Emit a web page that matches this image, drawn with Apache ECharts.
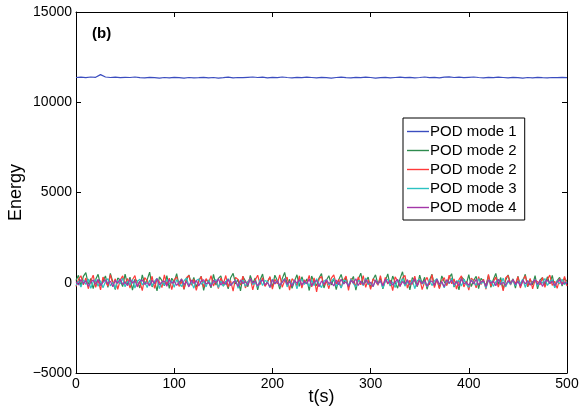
<!DOCTYPE html>
<html>
<head>
<meta charset="utf-8">
<script src="https://cdn.jsdelivr.net/npm/echarts@6/dist/echarts.min.js"></script>
<style>
  html, body { margin: 0; padding: 0; background: #fff; }
  #chart { width: 579px; height: 414px; }
</style>
</head>
<body>
<div id="chart"></div>
<script>
// legend labels (mode 2 shows up twice in the original figure)
const modeNames = ['POD mode 1', 'POD mode 2', 'POD mode 2', 'POD mode 3', 'POD mode 4'];
const modeColors = ['#3b4dbf', '#2e8b4e', '#ff3a3a', '#2cc2c2', '#a336a8'];
const xTicks = [0, 100, 200, 300, 400, 500];
const yTicks = [-5000, 0, 5000, 10000, 15000];

// mode 1 energy, sampled every 5 s
const mode1 = [
  11370, 11390, 11360, 11400, 11380, 11530, 11400, 11370, 11390, 11360, 11380, 11370, 11400, 11360, 11350, 11380, 11360, 11340, 11370, 11350,
  11380, 11360, 11340, 11370, 11350, 11360, 11380, 11350, 11370, 11340, 11360, 11390, 11350, 11370, 11360, 11380, 11400, 11370, 11390, 11350,
  11380, 11360, 11400, 11370, 11350, 11380, 11360, 11390, 11370, 11350, 11380, 11360, 11340, 11370, 11390, 11360, 11350, 11380, 11360, 11390,
  11370, 11340, 11360, 11380, 11350, 11370, 11390, 11360, 11380, 11350, 11370, 11400, 11360, 11380, 11350, 11390, 11410, 11370, 11390, 11360,
  11380, 11400, 11370, 11350, 11380, 11360, 11390, 11370, 11350, 11380, 11360, 11340, 11370, 11350, 11380, 11360, 11350, 11370, 11360, 11380, 11360
];

// fluctuating modes, sampled every 2.5 s
const mode2a = [
  120, 410, -180, 350, 560, -90, 230, -320, 180, 470, -150, 90, 380, -260, 520, 40, -380, 260, 150, -210,
  480, -120, 310, -410, 200, 90, -290, 440, -60, 170, 590, -230, 80, -450, 330, 120, -170, 400, -310, 250,
  30, 510, -140, 220, -370, 160, 430, -80, 290, -240, 110, 360, -420, 190, 50, -280, 470, -130, 240, 380,
  -190, 80, -340, 280, 520, -60, 180, -450, 350, 100, -220, 410, -30, 260, -390, 150, 480, -170, 60, 300,
  -260, 420, 130, -350, 230, 570, -100, 190, -310, 90, 440, -200, 330, -70, 210, -430, 370, 20, -160, 260,
  510, -290, 140, 390, -120, 240, -380, 170, 460, -50, 290, -230, 80, 350, -410, 200, 530, -140, 60, 310,
  -270, 180, 440, -90, 250, -340, 120, 490, -190, 370, 20, -300, 230, 610, -110, 160, -400, 280, 90, -220,
  420, -60, 300, -360, 140, 470, -170, 210, -280, 380, 50, -130, 260, 500, -240, 110, -390, 320, 190, -80,
  450, -210, 130, 360, -330, 240, 70, -150, 410, -260, 180, 520, -100, 290, -370, 140, 430, -50, 220, -300,
  360, -180, 90, 470, -230, 200, -120, 390, -340, 160, 280, -150, 330, -60, 410, -250, 120, 300, -190, 240, 80
];
const mode2b = [
  -210, 180, 390, -120, 260, -330, 90, 420, -250, 150, -400, 310, 60, -180, 450, -90, 220, -360, 130, 380,
  -60, 240, -290, 170, 400, -230, 80, -440, 290, 120, -150, 360, -310, 200, 40, -270, 430, -110, 250, -380,
  160, 330, -200, 70, -350, 280, 410, -140, 190, -420, 90, 350, -260, 230, -30, 390, -180, 140, -320, 270,
  -80, 400, -240, 110, -460, 300, 180, -130, 370, -290, 60, 240, -390, 150, 420, -100, 280, -200, 30, 340,
  -350, 190, -60, 440, -250, 120, 310, -410, 220, 80, -170, 380, -300, 160, -40, 410, -230, 270, -500, 200,
  350, -150, 90, -330, 260, 430, -80, 180, -280, 130, 370, -420, 240, 50, -190, 320, -110, 400, -260, 170,
  -360, 220, 70, -140, 390, -240, 290, -70, 150, -440, 330, 100, -210, 260, 410, -300, 140, -90, 360, -180,
  230, -380, 40, 300, -120, 450, -270, 190, -330, 110, 280, -160, 420, -60, 210, -350, 170, 380, -230, 90,
  -410, 250, 130, -280, 340, -100, 200, -360, 460, -190, 60, 310, -240, 150, -450, 270, 400, -130, 180, -70,
  330, -290, 120, 390, -200, 240, -340, 160, 60, -120, 300, -260, 190, 420, -150, 80, -310, 230, -90, 350, -180
];
const mode3 = [
  -150, 80, -240, 160, -90, 210, -310, 40, 190, -200, 120, -280, 60, 230, -170, 20, -330, 140, -60, 250,
  -220, 100, -130, 180, -290, 70, 200, -110, 30, -260, 150, -180, 90, 240, -320, 50, -140, 200, -70, 120,
  -250, 170, -30, -210, 110, 260, -160, 40, -300, 130, 210, -90, 80, -230, 160, -120, 20, 190, -270, 100,
  -180, 60, 230, -140, -20, 170, -310, 90, 140, -200, 50, 220, -100, 10, -250, 180, -150, 120, 70, -280,
  200, -60, 130, -190, 30, 250, -230, 80, -120, 160, -340, 110, 190, -80, 40, -210, 150, -160, 220, -40,
  -270, 90, 180, -130, 60, 240, -200, 20, -290, 140, 100, -170, 210, -50, -240, 130, 70, -150, 260, -110,
  10, -220, 170, -80, 120, -300, 90, 200, -140, 50, -260, 160, -20, 230, -190, 80, -120, 150, -330, 110,
  190, -70, 40, -240, 180, -160, 100, 220, -100, 30, -280, 140, -50, 250, -210, 60, 120, -180, 200, -90,
  -250, 170, 20, -140, 230, -60, 90, -310, 150, 110, -200, 40, 190, -120, 260, -230, 70, -90, 160, -170,
  100, -40, 210, -260, 130, -110, 60, 180, -200, 90, -30, 240, -150, 50, 170, -280, 120, -60, 200, -100, 40
];
const mode4 = [
  60, -120, 180, -40, 110, -190, 30, 150, -80, 200, -140, 20, 170, -60, 90, -220, 130, -30, 210, -100,
  40, -160, 190, -20, 120, -210, 70, 160, -90, 10, -170, 140, -50, 230, -120, 50, 100, -190, 180, -30,
  80, -150, 20, 200, -110, 60, -230, 150, -40, 120, -180, 90, 170, -70, 30, -200, 140, -10, 220, -130,
  60, -90, 190, -160, 40, 110, -210, 160, -50, 80, -140, 230, -20, 100, -180, 50, 150, -120, 10, -240,
  170, -60, 120, -150, 30, 200, -100, 70, -190, 140, -30, 180, -130, 90, -60, 210, -170, 40, 130, -220,
  100, -80, 160, -40, 20, -180, 150, -110, 190, -70, 60, -200, 130, -20, 220, -150, 80, -100, 170, -40,
  30, -210, 140, -60, 110, -170, 200, -30, 90, -130, 50, 180, -190, 70, -80, 160, -120, 20, 210, -160,
  120, -50, 150, -200, 40, 100, -140, 190, -90, 60, -230, 170, -20, 130, -110, 80, -180, 220, -60, 30,
  -150, 140, -70, 190, -120, 50, 110, -210, 160, -30, 90, -170, 200, -80, 20, -140, 130, -40, 180, -100,
  70, -190, 150, -60, 100, -130, 40, 170, -90, 120, -200, 60, 150, -40, 90, -160, 30, 180, -110, 50, -70
];

// pair each value with its time (samples spread evenly over 0..500 s)
function withTime(values) {
  const step = 500 / (values.length - 1);
  return values.map((v, i) => [i * step, v]);
}

const seriesValues = [mode1, mode2a, mode2b, mode3, mode4];
// unique ids for the legend, shown with the original names
const seriesIds = ['m1', 'm2a', 'm2b', 'm3', 'm4'];

const font = '"Liberation Sans", Arial, sans-serif';
const chart = echarts.init(document.getElementById('chart'), null, { renderer: 'canvas' });

const series = seriesValues.map((vals, k) => ({
  id: seriesIds[k],
  name: seriesIds[k],
  type: 'line',
  xAxisIndex: 0,
  yAxisIndex: 0,
  data: withTime(vals),
  symbol: 'none',
  lineStyle: { color: modeColors[k], width: 1.2 },
  itemStyle: { color: modeColors[k] },
  animation: false
}));

// plain numbers, matlab style minus
const plainLabel = v => String(v).replace('-', '\u2212');

const boxAxis = {
  axisLine: { show: true, onZero: false, lineStyle: { color: '#000', width: 1 } },
  axisTick: { show: true, inside: true, length: 5, lineStyle: { color: '#000' } },
  axisLabel: { show: false },
  splitLine: { show: false }
};

const option = {
  backgroundColor: '#fff',
  animation: false,
  grid: { left: 76, right: 12, top: 12, bottom: 41, containLabel: false, outerBoundsMode: 'none' },
  legend: {
    data: seriesIds.map(id => ({ name: id, icon: 'rect' })),
    formatter: id => modeNames[seriesIds.indexOf(id)],
    orient: 'vertical',
    left: 403,
    top: 118,
    width: 123,
    padding: [6, 8, 5, 4],
    itemWidth: 22,
    itemHeight: 1.4,
    itemGap: 4,
    backgroundColor: '#fff',
    borderColor: '#000',
    borderWidth: 1,
    selectedMode: false,
    textStyle: { fontFamily: font, fontSize: 15, color: '#000', padding: [0, 0, 0, -4], lineHeight: 15 }
  },
  graphic: [{
    type: 'text',
    left: 92,
    top: 26,
    style: { text: '(b)', font: 'bold 15px ' + font, fill: '#000' }
  }],
  xAxis: [{
    type: 'value',
    min: xTicks[0],
    max: xTicks[xTicks.length - 1],
    interval: 100,
    name: 't(s)',
    nameLocation: 'middle',
    nameGap: 15,
    nameMoveOverlap: false,
    nameTextStyle: { fontFamily: font, fontSize: 18, color: '#000', verticalAlign: 'top' },
    axisLine: { show: true, onZero: false, lineStyle: { color: '#000', width: 1 } },
    axisTick: { show: true, inside: true, length: 5, lineStyle: { color: '#000' } },
    axisLabel: { fontFamily: font, fontSize: 14, color: '#000', margin: 4, formatter: plainLabel },
    splitLine: { show: false }
  }, Object.assign({
    type: 'value', position: 'top',
    min: xTicks[0], max: xTicks[xTicks.length - 1], interval: 100
  }, boxAxis)],
  yAxis: [{
    type: 'value',
    min: yTicks[0],
    max: yTicks[yTicks.length - 1],
    interval: 5000,
    name: 'Energy',
    nameLocation: 'middle',
    nameGap: 51,
    nameMoveOverlap: false,
    nameTextStyle: { fontFamily: font, fontSize: 18, color: '#000' },
    axisLine: { show: true, onZero: false, lineStyle: { color: '#000', width: 1 } },
    axisTick: { show: true, inside: true, length: 5, lineStyle: { color: '#000' } },
    axisLabel: { fontFamily: font, fontSize: 14, color: '#000', margin: 4, formatter: plainLabel },
    splitLine: { show: false }
  }, Object.assign({
    type: 'value', position: 'right',
    min: yTicks[0], max: yTicks[yTicks.length - 1], interval: 5000
  }, boxAxis)],
  series
};

chart.setOption(option);
</script>
</body>
</html>
